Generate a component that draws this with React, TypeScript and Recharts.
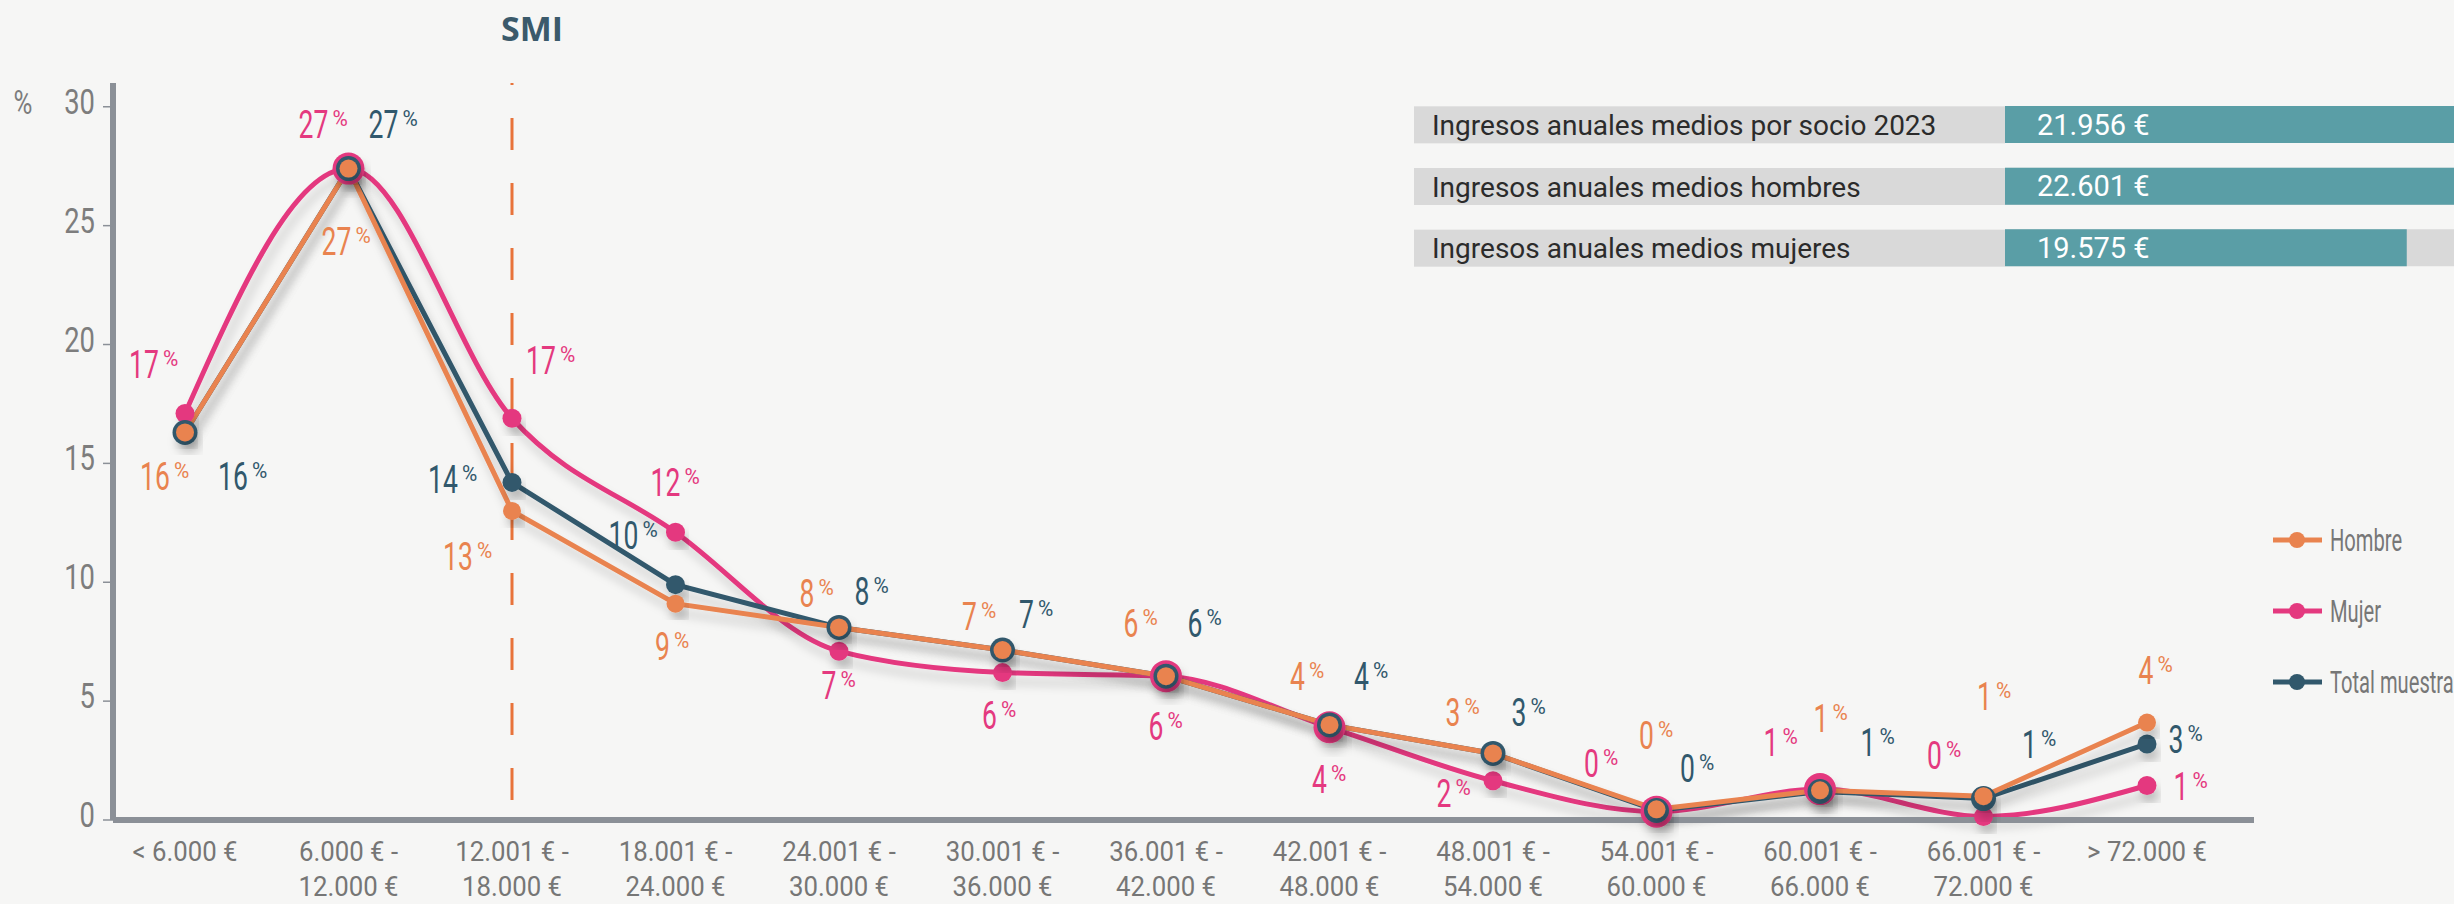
import React from "react";
import {
  LineChart,
  Line,
  XAxis,
  YAxis,
  CartesianGrid,
  ReferenceLine,
  LabelList,
  Legend,
  BarChart,
  Bar,
} from "recharts";

// income ranges (two text lines per tick)
const categoryLines: string[][] = [
  ["< 6.000 €"],
  ["6.000 € -", "12.000 €"],
  ["12.001 € -", "18.000 €"],
  ["18.001 € -", "24.000 €"],
  ["24.001 € -", "30.000 €"],
  ["30.001 € -", "36.000 €"],
  ["36.001 € -", "42.000 €"],
  ["42.001 € -", "48.000 €"],
  ["48.001 € -", "54.000 €"],
  ["54.001 € -", "60.000 €"],
  ["60.001 € -", "66.000 €"],
  ["66.001 € -", "72.000 €"],
  ["> 72.000 €"],
];
const categories = categoryLines.map((l) => l.join(" "));

const hombre = [16.3, 27.4, 13.0, 9.1, 8.1, 7.15, 6.05, 4.0, 2.8, 0.45, 1.25, 1.0, 4.1];
const mujer = [17.1, 27.4, 16.9, 12.1, 7.1, 6.2, 6.05, 3.9, 1.65, 0.35, 1.3, 0.15, 1.45];
const total = [16.3, 27.4, 14.2, 9.9, 8.1, 7.15, 6.05, 4.0, 2.8, 0.4, 1.2, 0.9, 3.2];

const yTicks = [0, 5, 10, 15, 20, 25, 30];
const smiCategory = categories[2];

const incomeLabels = [
  "Ingresos anuales medios por socio 2023",
  "Ingresos anuales medios hombres",
  "Ingresos anuales medios mujeres",
];
const incomeValues = [21956, 22601, 19575];

// label placement relative to each point [dx, dy]
const hombreLabelPos = [
  [-20, 44], [-2, 72], [-44, 45], [-3, 42], [-22, -34], [-23, -34], [-25, -53],
  [-22, -49], [-30, -41], [0, -74], [11, -72], [11, -100], [9, -53],
];
const mujerLabelPos = [
  [-31, -49], [-25, -45], [39, -58], [0, -50], [0, 34], [-3, 42], [0, 50],
  [0, 52], [-39, 12], [-55, -49], [-39, -47], [-39, -61], [44, 0],
];
const totalLabelPos = [
  [58, 44], [45, -45], [-59, -3], [-42, -50], [33, -36], [34, -36], [39, -53],
  [42, -49], [36, -41], [41, -42], [58, -49], [56, -55], [39, -5],
];

const ORANGE = "#e9834f";
const PINK = "#e4397f";
const DARK = "#31586c";
const AXIS = "#8b9097";
const FONT = 'Roboto, "Noto Sans", sans-serif';

const data = categories.map((cat, i) => ({
  cat,
  hombre: hombre[i],
  mujer: mujer[i],
  total: total[i],
}));

const incomeData = incomeLabels.map((label, i) => ({ label, value: incomeValues[i] }));

const legendItems = [
  { name: "Hombre", color: ORANGE },
  { name: "Mujer", color: PINK },
  { name: "Total muestra", color: DARK },
];

function fmtEuro(v: number) {
  return String(v).replace(/\B(?=(\d{3})+(?!\d))/g, ".") + " €";
}

// narrow text: the original uses a condensed face, squeeze Roboto horizontally
function CText({ x, y, sx = 1, size, fill, anchor = "start", weight = 400, children }: any) {
  return (
    <text
      transform={`translate(${x},${y}) scale(${sx},1)`}
      textAnchor={anchor}
      fontFamily={FONT}
      fontSize={size}
      fontWeight={weight}
      fill={fill}
    >
      {children}
    </text>
  );
}

const LABEL_SIZE = 39;
const LABEL_SX = 0.68;

const makeLabel = (color: string, offsets: number[][]) => (props: any) => {
  const { x, y, value, index } = props;
  const [dx, dy] = offsets[index] || [0, -40];
  const digits = String(Math.round(value));
  const dw = digits.length * 0.562 * LABEL_SIZE * LABEL_SX;
  const left = x + dx - (dw + 4 + 16) / 2;
  const base = y + dy + 14;
  return (
    <g>
      <CText x={left} y={base} sx={LABEL_SX} size={LABEL_SIZE} fill={color}>
        {digits}
      </CText>
      <CText x={left + dw + 4} y={base - 12} sx={0.95} size={22} fill={color}>
        %
      </CText>
    </g>
  );
};

const near = (a: number, b: number) => Math.abs(a - b) < 0.35;

const makeDot = (series: "hombre" | "mujer" | "total") => (props: any) => {
  const { cx, cy, index } = props;
  let r = 9;
  let fill = ORANGE;
  if (series === "total") {
    fill = DARK;
    r = near(total[index], hombre[index]) ? 12.5 : 9.5;
  } else if (series === "mujer") {
    fill = PINK;
    r = near(mujer[index], total[index]) ? 16 : 9.5;
  }
  return (
    <circle
      key={`${series}-${index}`}
      cx={cx}
      cy={cy}
      r={r}
      fill={fill}
      filter="url(#soft-shadow)"
    />
  );
};

// dotted grid lines sit between the categories
const boundaryGrid = (props: any) => {
  const s = props?.xAxis?.scale;
  if (typeof s !== "function") return [];
  const pts = categories.map((c) => s(c) as number);
  const out: number[] = [];
  for (let i = 1; i < pts.length; i++) out.push((pts[i - 1] + pts[i]) / 2);
  out.push(pts[pts.length - 1] + (pts[1] - pts[0]) / 2);
  return out;
};

function XTick({ x, y, payload }: any) {
  const lines = categoryLines[payload.index] || [payload.value];
  return (
    <g>
      {lines.map((line, i) => (
        <CText key={i} x={x} y={y + 33 + i * 35} sx={0.92} size={28} fill="#767676" anchor="middle">
          {line}
        </CText>
      ))}
    </g>
  );
}

function YTick({ x, y, payload }: any) {
  return (
    <g>
      <CText x={x} y={y + 7} sx={0.76} size={36} fill="#7d7d7d" anchor="end">
        {payload.value}
      </CText>
      {payload.value === yTicks[yTicks.length - 1] && (
        <CText x={23} y={y + 7} sx={0.76} size={34} fill="#7d7d7d" anchor="middle">
          %
        </CText>
      )}
    </g>
  );
}

function LegendBox() {
  return (
    <svg width={200} height={200}>
      {legendItems.map((it, i) => {
        const cy = 30 + i * 71;
        return (
          <g key={it.name}>
            <line x1={3} x2={52} y1={cy} y2={cy} stroke={it.color} strokeWidth={5} />
            <circle cx={27} cy={cy} r={8} fill={it.color} />
            <CText x={60} y={cy + 11} sx={0.65} size={31} fill="#777">
              {it.name}
            </CText>
          </g>
        );
      })}
    </svg>
  );
}

function IncomeTick({ y, payload }: any) {
  return (
    <g>
      <rect x={0} y={y - 18.5} width={591} height={37} fill="#d9d9d9" />
      <CText x={18} y={y + 10} size={28} fill="#2b2b2b">
        {payload.value}
      </CText>
    </g>
  );
}

function IncomeValue(props: any) {
  const { x, y, height, value } = props;
  return (
    <CText x={x + 32} y={y + height / 2 + 10} size={29} fill="#ffffff">
      {fmtEuro(value)}
    </CText>
  );
}

function SmiLabel(props: any) {
  const { viewBox } = props;
  return (
    <text
      x={viewBox.x + 20}
      y={viewBox.y - 42}
      textAnchor="middle"
      fill="#3b5a6b"
      fontSize={34}
      fontWeight={700}
      fontFamily='"Open Sans", sans-serif'
    >
      SMI
    </text>
  );
}

export default function App() {
  return (
    <div
      style={{
        position: "absolute",
        left: 0,
        top: 0,
        width: 2454,
        height: 904,
        overflow: "hidden",
        background: "#f6f6f5",
      }}
    >
      <LineChart
        width={2454}
        height={904}
        data={data}
        margin={{ top: 83, right: 200, bottom: 0, left: 0 }}
      >
        <defs>
          <filter id="soft-shadow" x="-20%" y="-20%" width="140%" height="160%">
            <feDropShadow dx={4} dy={9} stdDeviation={5} floodColor="#000" floodOpacity={0.18} />
          </filter>
        </defs>
        <CartesianGrid
          horizontal={false}
          stroke="#cbcbcb"
          strokeDasharray="2 5"
          strokeWidth={1.5}
          verticalCoordinatesGenerator={boundaryGrid}
        />
        <XAxis
          dataKey="cat"
          height={84}
          padding={{ left: 72, right: 107 }}
          tick={<XTick />}
          tickLine={false}
          axisLine={{ stroke: AXIS, strokeWidth: 6 }}
          interval={0}
        />
        <YAxis
          width={113}
          domain={[0, 31]}
          ticks={yTicks}
          tick={<YTick />}
          tickSize={10}
          tickMargin={8}
          tickLine={{ stroke: AXIS, strokeWidth: 1.5 }}
          axisLine={{ stroke: AXIS, strokeWidth: 6 }}
        />
        <ReferenceLine
          x={smiCategory}
          stroke="#e8733a"
          strokeWidth={3}
          shape={(p: any) => (
            <line
              x1={p.x1}
              x2={p.x2}
              y1={p.y1 - 20}
              y2={p.y2}
              stroke="#e8733a"
              strokeWidth={3}
              strokeDasharray="32 33"
            />
          )}
          label={<SmiLabel />}
        />
        <Line
          dataKey="mujer"
          name="Mujer"
          type="monotone"
          stroke={PINK}
          strokeWidth={5}
          filter="url(#soft-shadow)"
          dot={makeDot("mujer")}
          activeDot={false}
          isAnimationActive={false}
        >
          <LabelList dataKey="mujer" content={makeLabel(PINK, mujerLabelPos)} />
        </Line>
        <Line
          dataKey="total"
          name="Total muestra"
          type="linear"
          stroke={DARK}
          strokeWidth={5}
          filter="url(#soft-shadow)"
          dot={makeDot("total")}
          activeDot={false}
          isAnimationActive={false}
        >
          <LabelList dataKey="total" content={makeLabel(DARK, totalLabelPos)} />
        </Line>
        <Line
          dataKey="hombre"
          name="Hombre"
          type="linear"
          stroke={ORANGE}
          strokeWidth={5}
          filter="url(#soft-shadow)"
          dot={makeDot("hombre")}
          activeDot={false}
          isAnimationActive={false}
        >
          <LabelList dataKey="hombre" content={makeLabel(ORANGE, hombreLabelPos)} />
        </Line>
        <Legend
          layout="horizontal"
          align="center"
          verticalAlign="middle"
          content={<LegendBox />}
          wrapperStyle={{ left: 2270, top: 510, width: 200, right: "auto", bottom: "auto" }}
        />
      </LineChart>

      <div style={{ position: "absolute", left: 1414, top: 94 }}>
        <BarChart
          layout="vertical"
          width={1100}
          height={185}
          data={incomeData}
          margin={{ top: 0, right: 0, bottom: 0, left: 0 }}
          barSize={37}
        >
          <XAxis type="number" hide domain={[0, 24800]} />
          <YAxis
            type="category"
            dataKey="label"
            width={591}
            tick={<IncomeTick />}
            tickLine={false}
            axisLine={false}
          />
          <Bar
            dataKey="value"
            fill="#5a9ea6"
            background={{ fill: "#d9d9d9" }}
            isAnimationActive={false}
          >
            <LabelList dataKey="value" content={<IncomeValue />} />
          </Bar>
        </BarChart>
      </div>
    </div>
  );
}
